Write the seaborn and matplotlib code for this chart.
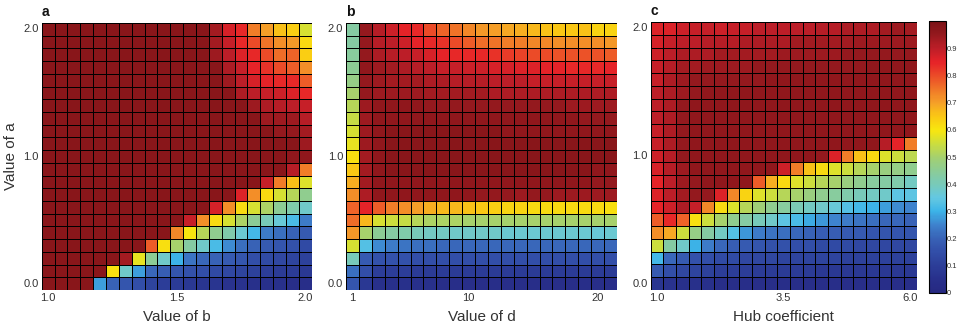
import numpy as np
import matplotlib
matplotlib.use("Agg")
import matplotlib.pyplot as plt
import seaborn as sns
from matplotlib.colors import LinearSegmentedColormap

# ---------------- data (percent, rows from top a=2.0 to bottom a=0.0) ----------------
panel_a = [
    [97,97,97,97,97,97,97,97,97,97,97,97,97,93,87,84,74,70,66,64,56],
    [97,97,97,97,97,97,97,97,97,97,97,97,97,93,89,84,80,75,72,71,62],
    [97,97,97,97,97,97,97,97,97,97,97,97,97,94,90,86,84,80,76,77,64],
    [97,97,97,97,97,97,97,97,97,97,97,97,97,97,92,89,85,83,80,78,72],
    [97,97,97,97,97,97,97,97,97,97,97,97,97,97,94,90,87,85,84,84,78],
    [97,97,97,97,97,97,97,97,97,97,97,97,97,97,97,92,90,89,88,86,84],
    [97,97,97,97,97,97,97,97,97,97,97,97,97,97,97,97,94,92,91,90,89],
    [97,97,97,97,97,97,97,97,97,97,97,97,97,97,97,97,97,94,94,94,91],
    [97,97,97,97,97,97,97,97,97,97,97,97,97,97,97,97,97,97,95,95,93],
    [97,97,97,97,97,97,97,97,97,97,97,97,97,97,97,97,97,97,97,97,94],
    [97,97,97,97,97,97,97,97,97,97,97,97,97,97,97,97,97,97,97,96,96],
    [97,97,97,97,97,97,97,97,97,97,97,97,97,97,97,97,97,97,97,91,74],
    [97,97,97,97,97,97,97,97,97,97,97,97,97,97,97,97,97,89,74,66,57],
    [97,97,97,97,97,97,97,97,97,97,97,97,97,97,97,86,72,62,56,52,46],
    [97,97,97,97,97,97,97,97,97,97,97,97,97,87,72,62,56,51,45,42,38],
    [97,97,97,97,97,97,97,97,97,97,97,89,72,62,56,51,45,40,36,32,24],
    [97,97,97,97,97,97,97,97,97,97,73,60,52,46,42,37,31,24,22,20,18],
    [97,97,97,97,97,97,97,97,78,61,50,43,38,32,26,22,20,18,17,16,14],
    [97,97,97,97,97,97,93,58,45,38,30,23,21,20,18,17,15,14,13,12,11],
    [97,97,97,97,97,61,38,28,21,19,17,16,15,14,13,12,11,10, 9, 9, 8],
    [97,97,97,97,28,20,17,15,12,10, 9, 8, 7, 7, 6, 6, 5, 5, 5, 4, 4],
]

panel_b = [
    [43,95,91,88,85,84,80,77,75,73,71,70,69,68,67,66,65,65,66,63,63],
    [43,95,91,90,88,85,84,83,80,78,76,75,74,74,73,73,72,72,72,72,71],
    [44,95,92,91,90,89,87,85,84,84,84,83,82,81,80,80,79,79,79,79,78],
    [45,96,94,93,92,91,90,89,89,88,88,87,87,86,86,85,85,84,84,84,85],
    [47,95,94,93,93,93,92,92,91,91,91,90,90,90,89,89,89,89,89,89,89],
    [50,95,94,94,94,94,93,93,93,93,93,92,92,92,92,92,92,92,92,92,92],
    [52,94,96,96,96,96,95,95,95,95,95,95,95,95,95,95,95,94,94,94,94],
    [54,94,96,96,96,96,96,96,96,96,96,96,96,96,96,96,96,96,95,95,95],
    [56,94,96,97,97,97,97,97,97,97,97,97,96,96,96,96,96,96,96,96,96],
    [58,94,96,97,97,97,97,97,97,97,97,97,97,97,97,97,97,97,97,97,97],
    [61,93,96,97,97,97,97,97,97,97,97,97,97,97,97,97,97,97,97,97,97],
    [65,93,96,97,97,97,97,97,97,97,97,97,97,97,97,97,97,97,97,96,96],
    [68,93,96,96,96,96,96,96,96,96,96,96,96,96,96,96,96,96,96,95,95],
    [72,92,96,96,96,96,96,96,96,96,95,95,95,94,95,95,94,94,94,94,94],
    [77,85,78,74,72,70,68,67,67,66,65,64,63,63,62,62,62,62,62,62,61],
    [76,67,56,55,54,52,51,51,51,50,50,50,50,50,50,50,50,50,50,50,50],
    [71,50,45,43,42,40,39,39,38,38,38,38,37,37,37,37,37,37,37,36,37],
    [56,33,26,24,23,22,22,21,21,21,21,21,21,21,21,21,21,21,21,21,21],
    [40,18,16,16,16,15,15,15,15,15,15,15,15,15,15,15,15,15,15,15,15],
    [22,15,10,10,10, 9, 9, 9, 9, 9, 9, 9, 9, 9, 9, 9, 9, 9, 9, 9, 9],
    [17, 8, 5, 5, 5, 5, 5, 4, 4, 4, 4, 4, 4, 4, 4, 4, 4, 4, 4, 4, 4],
]

panel_c = [
    [86,86,88,89,89,88,89,89,90,90,90,90,90,91,91,92,92,92,93,94,93],
    [87,89,90,90,91,91,91,92,92,92,92,93,93,93,93,93,94,94,94,94,94],
    [88,90,92,92,92,93,93,93,93,93,94,94,94,94,94,95,95,95,95,95,95],
    [89,91,93,93,94,94,94,94,95,95,95,95,95,95,95,95,95,96,96,96,96],
    [89,92,94,95,95,95,95,95,95,96,96,96,96,96,96,96,96,96,96,96,96],
    [90,92,94,95,96,96,96,96,96,96,96,96,96,96,96,96,96,96,96,96,96],
    [90,92,95,96,96,96,96,96,96,96,96,96,96,96,96,96,96,96,96,96,96],
    [90,92,95,96,96,96,96,96,96,96,96,96,96,96,96,96,96,96,96,96,96],
    [89,92,95,96,96,96,96,96,96,96,96,96,96,96,96,96,96,96,96,96,96],
    [89,92,95,96,96,96,96,96,96,96,96,96,96,96,96,96,96,96,91,85,74],
    [88,91,95,96,96,96,96,96,96,96,96,96,96,95,86,74,66,62,57,55,53],
    [87,91,94,96,96,96,96,96,96,96,88,74,66,62,57,55,52,50,48,47,46],
    [85,90,94,95,96,96,96,96,78,68,62,57,55,52,50,48,46,44,43,42,39],
    [86,90,93,95,95,86,73,63,57,55,52,50,48,46,44,42,40,39,38,34,34],
    [85,88,92,89,73,62,57,52,49,46,44,41,39,38,36,33,31,30,28,26,25],
    [78,84,77,61,55,50,46,43,40,38,34,32,29,27,25,24,23,22,21,21,20],
    [72,69,55,47,43,39,33,27,24,23,22,21,20,19,19,18,18,17,17,17,17],
    [55,43,38,30,24,21,19,18,17,16,16,15,15,14,14,14,13,13,13,13,13],
    [31,21,18,16,15,14,14,13,13,13,12,12,12,12,12,11,11,11,11,11,11],
    [18,15,13,12,11,10,10,10, 9, 9, 9, 9, 9, 8, 8, 8, 8, 8, 8, 8, 8],
    [ 7, 6, 5, 5, 5, 4, 4, 4, 4, 4, 4, 4, 4, 4, 4, 4, 4, 4, 4, 4, 4],
]

y_tick_idx = [0, 10, 20]
y_tick_labels = ["2.0", "1.0", "0.0"]
a_x_idx = [0, 10, 20]
a_x_labels = ["1.0", "1.5", "2.0"]
b_x_idx = [0, 9, 19]
b_x_labels = ["1", "10", "20"]
c_x_idx = [0, 10, 20]
c_x_labels = ["1.0", "3.5", "6.0"]
cbar_ticks = [0, 0.1, 0.2, 0.3, 0.4, 0.5, 0.6, 0.7, 0.8, 0.9]
cbar_labels = ["0", "0.1", "0.2", "0.3", "0.4", "0.5", "0.6", "0.7", "0.8", "0.9"]

# ---------------- colormap (muted jet) ----------------
cmap_anchors = [
    (0.00, (38, 40, 128)), (0.05, (40, 48, 140)), (0.10, (44, 62, 152)),
    (0.15, (50, 78, 168)), (0.20, (56, 98, 182)), (0.25, (62, 130, 205)),
    (0.30, (60, 180, 232)), (0.35, (100, 200, 225)), (0.40, (120, 202, 185)),
    (0.45, (140, 204, 150)), (0.50, (165, 208, 110)), (0.55, (205, 222, 60)),
    (0.60, (248, 230, 15)), (0.65, (250, 200, 20)), (0.70, (245, 160, 40)),
    (0.75, (240, 118, 40)), (0.80, (235, 75, 40)), (0.85, (230, 35, 40)),
    (0.90, (190, 30, 40)), (0.95, (150, 25, 30)), (1.00, (122, 18, 22)),
]
cmap = LinearSegmentedColormap.from_list(
    "mutedjet", [(v, tuple(c / 255 for c in rgb)) for v, rgb in cmap_anchors])

sns.set_theme(style="white")
plt.rcParams["font.family"] = ["Liberation Sans", "DejaVu Sans"]
text_color = "#333333"

fig = plt.figure(figsize=(9.59, 3.29), dpi=100)
ax_a = fig.add_axes([0.0435, 0.1185, 0.2815, 0.8115])
ax_b = fig.add_axes([0.3608, 0.1185, 0.2826, 0.8115])
ax_c = fig.add_axes([0.6785, 0.1185, 0.2774, 0.8145])
cax = fig.add_axes([0.9687, 0.1095, 0.0178, 0.8265])

common = dict(cmap=cmap, vmin=0, vmax=1, linewidths=0.6, linecolor="black")
sns.heatmap(np.array(panel_a) / 100, ax=ax_a, cbar=False, **common)
sns.heatmap(np.array(panel_b) / 100, ax=ax_b, cbar=False, **common)
sns.heatmap(np.array(panel_c) / 100, ax=ax_c, cbar=True, cbar_ax=cax, **common)

for ax, xi, xl, xlabel, letter in [
    (ax_a, a_x_idx, a_x_labels, "Value of b", "a"),
    (ax_b, b_x_idx, b_x_labels, "Value of d", "b"),
    (ax_c, c_x_idx, c_x_labels, "Hub coefficient", "c"),
]:
    ax.set_xticks([i + 0.5 for i in xi])
    ax.set_xticklabels(xl, rotation=0, fontsize=8, color=text_color)
    ax.set_yticks([i + 0.5 for i in y_tick_idx])
    ax.set_yticklabels(y_tick_labels, rotation=0, fontsize=8, color=text_color)
    ax.tick_params(length=0, pad=2)
    ax.set_xlabel(xlabel, fontsize=11, color=text_color, labelpad=5)
    ax.set_ylabel("")
    ax.text(0.0, 1.015, letter, transform=ax.transAxes, fontsize=10,
            fontweight="bold", color="#111111", ha="left", va="bottom")

ax_a.set_ylabel("Value of a", fontsize=11, color=text_color, labelpad=4)

cbar = ax_c.collections[0].colorbar
cbar.set_ticks(cbar_ticks)
cbar.set_ticklabels(cbar_labels)
cbar.outline.set_edgecolor("black")
cbar.outline.set_linewidth(0.8)
cax.tick_params(direction="in", length=3, width=0.6, left=True, right=True,
                labelright=True, labelleft=False, labelsize=5.5,
                labelcolor=text_color, color="#222222", pad=0.5)

fig.savefig("out.png", dpi=100)
